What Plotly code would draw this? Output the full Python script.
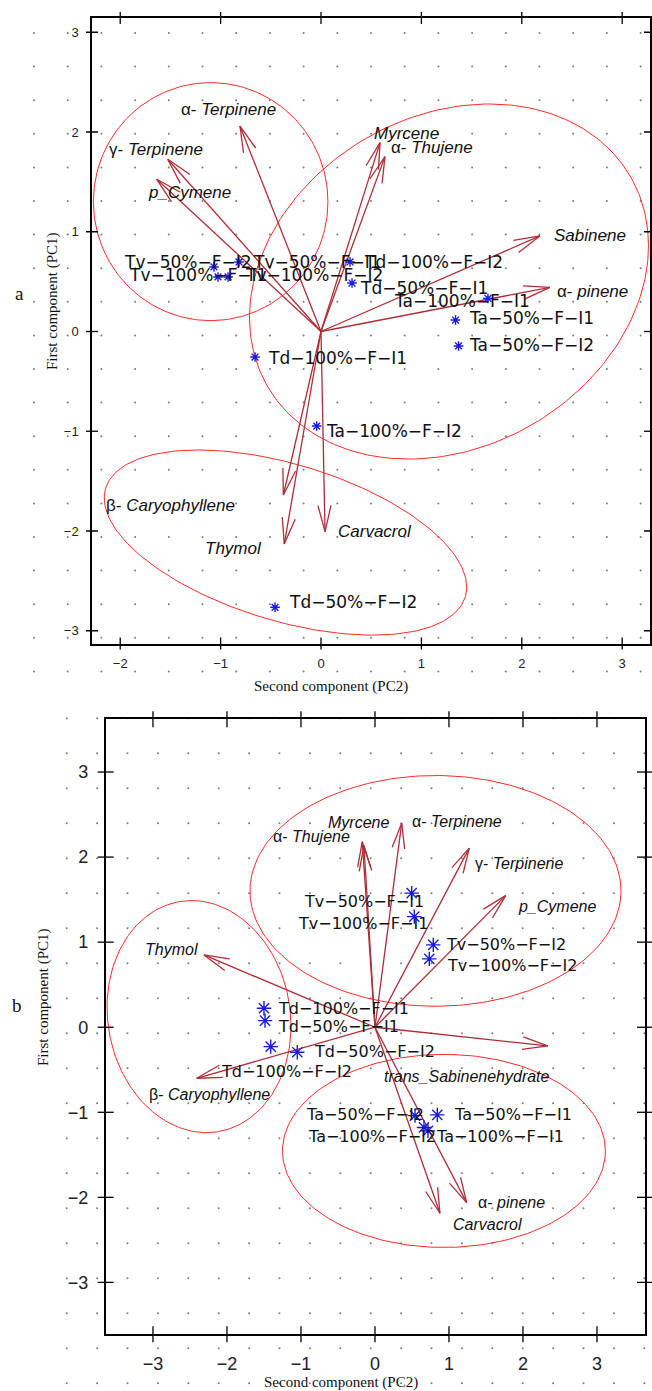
import numpy as np
import plotly.graph_objects as go

W, H = 652, 1391

# ---------------- Panel a data ----------------
a_var_names = ["α-Terpinene", "γ-Terpinene", "p_Cymene", "Myrcene", "α-Thujene",
               "Sabinene", "α-pinene", "β-Caryophyllene", "Thymol", "Carvacrol"]
a_var_x = [-0.807, -1.527, -1.636, 0.588, 0.637, 2.181, 2.281, -0.375, -0.366, 0.040]
a_var_y = [2.060, 1.727, 1.526, 1.893, 1.753, 0.958, 0.443, -1.639, -2.131, -2.007]
a_varlab_x = [-1.404, -2.122, -1.733, 0.518, 0.687, 2.311, 2.341, -2.151, -1.165, 0.159]
a_varlab_y = [2.221, 1.820, 1.389, 1.990, 1.840, 0.958, 0.396, -1.740, -2.171, -2.010]

a_obs_names = ["Tv−50%−F−I2", "Tv−50%−F−I1", "Tv−100%−F−I1", "Tv−100%−F−I2",
               "Td−100%−F−I2", "Td−50%−F−I1", "Td−100%−F−I1", "Ta−100%−F−I2",
               "Ta−100%−F−I1", "Ta−50%−F−I1", "Ta−50%−F−I2", "Td−50%−F−I2"]
a_obs_x = [-1.066, -0.817, -1.026, -0.926, 0.289, 0.309, -0.657, -0.043, 1.663, 1.340, 1.370, -0.458]
a_obs_y = [0.647, 0.697, 0.547, 0.547, 0.697, 0.486, -0.256, -0.948, 0.331, 0.115, -0.145, -2.765]
a_obslab_x = [-1.972, -0.687, -1.922, -0.767, 0.418, 0.378, -0.538, 0.040, 0.717, 1.464, 1.464, -0.329]
a_obslab_y = [0.697, 0.697, 0.567, 0.567, 0.697, 0.436, -0.266, -0.998, 0.306, 0.135, -0.135, -2.712]

# group ellipses: centre x, centre y, half-width, half-height, tilt correlation
a_ell_cx = [-1.099, 1.275, -0.354]
a_ell_cy = [1.302, 0.501, -2.116]
a_ell_hx = [1.168, 1.987, 1.805]
a_ell_hy = [1.193, 1.780, 0.928]
a_ell_rho = [0.0, 0.202, -0.481]

a_xticks = [-2, -1, 0, 1, 2, 3]
a_yticks = [-3, -2, -1, 0, 1, 2, 3]
a_xrange = [-2.281, 3.277]
a_yrange = [-3.128, 3.143]

# ---------------- Panel b data ----------------
b_var_names = ["Myrcene", "α-Thujene", "α-Terpinene", "γ-Terpinene", "p_Cymene",
               "Thymol", "β-Caryophyllene", "trans_Sabinenehydrate", "α-pinene", "Carvacrol"]
b_var_x = [-0.172, -0.149, 0.361, 1.274, 1.766, -2.311, -2.409, 2.334, 1.239, 0.878]
b_var_y = [2.182, 2.134, 2.399, 2.105, 1.547, 0.850, -0.600, -0.220, -2.062, -2.187]
b_varlab_x = [-0.649, -1.396, 0.482, 1.338, 1.919, -3.118, -3.072, 0.108, 1.382, 1.036]
b_varlab_y = [2.406, 2.241, 2.417, 1.920, 1.418, 0.909, -0.796, -0.581, -2.062, -2.316]

b_obs_names = ["Tv−50%−F−I1", "Tv−100%−F−I1", "Tv−50%−F−I2", "Tv−100%−F−I2",
               "Td−100%−F−I1", "Td−50%−F−I1", "Td−100%−F−I2", "Td−50%−F−I2",
               "Ta−50%−F−I2", "Ta−50%−F−I1", "Ta−100%−F−I2", "Ta−100%−F−I1"]
b_obs_x = [0.496, 0.531, 0.788, 0.734, -1.500, -1.486, -1.409, -1.050, 0.541, 0.842, 0.662, 0.716]
b_obs_y = [1.576, 1.300, 0.968, 0.803, 0.223, 0.078, -0.228, -0.294, -1.039, -1.031, -1.178, -1.219]
b_obslab_x = [-0.969, -1.058, 0.946, 0.959, -1.328, -1.328, -2.095, -0.834, -0.946, 1.058, -0.923, 0.811]
b_obslab_y = [1.477, 1.223, 0.968, 0.721, 0.223, 0.007, -0.522, -0.287, -1.031, -1.031, -1.286, -1.286]

b_ell_cx = [0.818, -2.378, 0.932]
b_ell_cy = [1.603, 0.125, -1.454]
b_ell_hx = [2.507, 1.243, 2.182]
b_ell_hy = [1.356, 1.364, 1.135]
b_ell_rho = [0.0, -0.08, 0.0]

b_xticks = [-3, -2, -1, 0, 1, 2, 3]
b_yticks = [-3, -2, -1, 0, 1, 2, 3]
b_xrange = [-3.639, 3.649]
b_yrange = [-3.61, 3.62]

# ---------------- layout geometry (pixels) ----------------
A_BOX = (92, 650, 18, 643.5)      # left, right, top, bottom
B_BOX = (105.7, 645, 719.3, 1334.3)

ARROW_C = "#ae2e38"
ELL_C = "#ff2a2a"
STAR_C = "#1a1ae0"


def fmt_var(name):
    if len(name) > 2 and name[1] == "-" and name[0] in "αβγ":
        return name[0] + "- <i>" + name[2:] + "</i>"
    return "<i>" + name + "</i>"


def ellipse_xy(cx, cy, hx, hy, rho, n=240):
    t = np.linspace(0, 2 * np.pi, n)
    x = cx + hx * np.cos(t)
    y = cy + hy * (rho * np.cos(t) + np.sqrt(1 - rho ** 2) * np.sin(t))
    return list(x), list(y)


def arrows_xy(tx, ty, sx, sy, L=26, ang=14):
    xs, ys = [], []
    for x, y in zip(tx, ty):
        xs += [0, x, None]
        ys += [0, y, None]
        dx, dy = -x * sx, -y * sy
        nrm = np.hypot(dx, dy)
        dx, dy = dx / nrm, dy / nrm
        for s in (1, -1):
            a = np.radians(ang * s)
            rx = dx * np.cos(a) - dy * np.sin(a)
            ry = dx * np.sin(a) + dy * np.cos(a)
            xs += [x, x + L * rx / sx, None]
            ys += [y, y + L * ry / sy, None]
    return xs, ys


fig = go.Figure()

# background dot texture (full-figure pixel axes)
dax = np.arange(34, 650, 33.7)
day = np.arange(33, 705, 33.6)
dbx = np.arange(66.7, 650, 30.4)
dby = np.arange(718.3, 1391, 35.0)
gx = [x for y in day for x in dax] + [x for y in dby for x in dbx]
gy = [y for y in day for x in dax] + [y for y in dby for x in dbx]
fig.add_trace(go.Scatter(x=gx, y=gy, mode="markers", xaxis="x", yaxis="y",
                         marker=dict(size=2, color="#7a7a7a"), hoverinfo="skip", showlegend=False))


def add_panel(xa, ya, box, xr, yr, var_x, var_y, obs_x, obs_y, ell, star_size, L):
    sx = (box[1] - box[0]) / (xr[1] - xr[0])
    sy = (box[3] - box[2]) / (yr[1] - yr[0])
    for cx, cy, hx, hy, rho in zip(*ell):
        ex, ey = ellipse_xy(cx, cy, hx, hy, rho)
        fig.add_trace(go.Scatter(x=ex, y=ey, mode="lines", xaxis=xa, yaxis=ya,
                                 line=dict(color=ELL_C, width=1), hoverinfo="skip", showlegend=False))
    axs, ays = arrows_xy(var_x, var_y, sx, sy, L=L)
    fig.add_trace(go.Scatter(x=axs, y=ays, mode="lines", xaxis=xa, yaxis=ya,
                             line=dict(color=ARROW_C, width=1.3), hoverinfo="skip", showlegend=False))
    fig.add_trace(go.Scatter(x=obs_x, y=obs_y, mode="markers", xaxis=xa, yaxis=ya,
                             marker=dict(symbol="asterisk-open", size=star_size, color=STAR_C,
                                         line=dict(color=STAR_C, width=1.4)),
                             hoverinfo="skip", showlegend=False))


add_panel("x2", "y2", A_BOX, a_xrange, a_yrange, a_var_x, a_var_y, a_obs_x, a_obs_y,
          (a_ell_cx, a_ell_cy, a_ell_hx, a_ell_hy, a_ell_rho), 8, 27)
add_panel("x3", "y3", B_BOX, b_xrange, b_yrange, b_var_x, b_var_y, b_obs_x, b_obs_y,
          (b_ell_cx, b_ell_cy, b_ell_hx, b_ell_hy, b_ell_rho), 12, 26)

annotations = []


def add_labels(xr, yr, names, lx, ly, font):
    for n, x, y in zip(names, lx, ly):
        annotations.append(dict(x=x, y=y, xref=xr, yref=yr, text=n, showarrow=False,
                                xanchor="left", yanchor="middle", font=font, borderpad=0))


add_labels("x2", "y2", [fmt_var(n) for n in a_var_names], a_varlab_x, a_varlab_y,
           dict(family="Liberation Sans", size=17, color="#111"))
add_labels("x2", "y2", a_obs_names, a_obslab_x, a_obslab_y,
           dict(family="DejaVu Sans", size=17, color="#111"))
add_labels("x3", "y3", [fmt_var(n) for n in b_var_names], b_varlab_x, b_varlab_y,
           dict(family="Liberation Sans", size=16, color="#111"))
add_labels("x3", "y3", b_obs_names, b_obslab_x, b_obslab_y,
           dict(family="DejaVu Sans", size=16, color="#111"))

serif = dict(family="Liberation Serif", size=15, color="#111")
for txt, px, py, ang in [("Second component (PC2)", 331, 686, 0),
                         ("First component (PC1)", 53, 301, -90),
                         ("Second component (PC2)", 341, 1382, 0),
                         ("First component (PC1)", 43, 997, -90)]:
    annotations.append(dict(x=px / W, y=1 - py / H, xref="paper", yref="paper", text=txt,
                            showarrow=False, textangle=ang, font=serif,
                            xanchor="center", yanchor="middle"))
for txt, px, py in [("a", 19, 294), ("b", 17, 1005)]:
    annotations.append(dict(x=px / W, y=1 - py / H, xref="paper", yref="paper", text=txt,
                            showarrow=False, font=dict(family="Liberation Serif", size=19, color="#111"),
                            xanchor="center", yanchor="middle"))

# crossing tick marks on all four sides
shapes = []


def add_ticks(xa, ya, xt, yt, half):
    tk = dict(type="line", line=dict(color="black", width=1.3))
    for v in xt:
        for anc in (0, 1):
            shapes.append(dict(tk, xref=xa, yref=ya + " domain", ysizemode="pixel", yanchor=anc,
                               x0=v, x1=v, y0=-half, y1=half))
    for v in yt:
        for anc in (0, 1):
            shapes.append(dict(tk, yref=ya, xref=xa + " domain", xsizemode="pixel", xanchor=anc,
                               y0=v, y1=v, x0=-half, x1=half))


add_ticks("x2", "y2", a_xticks, a_yticks, 6)
add_ticks("x3", "y3", b_xticks, b_yticks, 8)


def dom_x(box):
    return [box[0] / W, box[1] / W]


def dom_y(box):
    return [1 - box[3] / H, 1 - box[2] / H]


axis_common = dict(showline=True, linecolor="black", linewidth=1.5, mirror=True,
                   showgrid=False, zeroline=False, ticks="outside", tickcolor="rgba(0,0,0,0)",
                   tickwidth=1, fixedrange=True)

fig.update_layout(
    width=W, height=H, autosize=False,
    margin=dict(l=0, r=0, t=0, b=0),
    paper_bgcolor="white", plot_bgcolor="rgba(0,0,0,0)",
    showlegend=False,
    xaxis=dict(domain=[0, 1], range=[0, W], visible=False, fixedrange=True),
    yaxis=dict(domain=[0, 1], range=[H, 0], visible=False, fixedrange=True),
    xaxis2=dict(domain=dom_x(A_BOX), range=a_xrange, anchor="y2", tickvals=a_xticks, ticklen=7,
                tickfont=dict(family="Liberation Sans", size=13, color="#222"), **axis_common),
    yaxis2=dict(domain=dom_y(A_BOX), range=a_yrange, anchor="x2", tickvals=a_yticks, ticklen=9,
                tickfont=dict(family="Liberation Sans", size=13, color="#222"), **axis_common),
    xaxis3=dict(domain=dom_x(B_BOX), range=b_xrange, anchor="y3", tickvals=b_xticks, ticklen=12,
                tickfont=dict(family="Liberation Sans", size=18, color="#222"), **axis_common),
    yaxis3=dict(domain=dom_y(B_BOX), range=b_yrange, anchor="x3", tickvals=b_yticks, ticklen=12,
                tickfont=dict(family="Liberation Sans", size=18, color="#222"), **axis_common),
    annotations=annotations,
    shapes=shapes,
)

fig.write_html("out.html", config={"displayModeBar": False},
               post_script="document.body.style.margin='0px';document.body.style.overflow='hidden';")
